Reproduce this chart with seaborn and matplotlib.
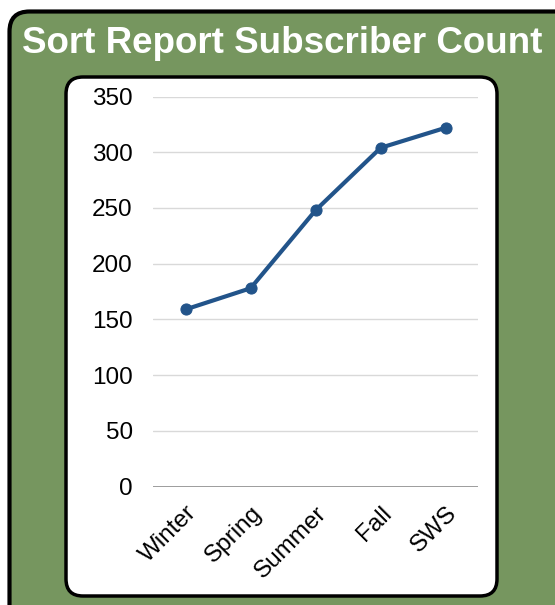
import numpy as np
import pandas as pd
import matplotlib
matplotlib.use("Agg")
import matplotlib.pyplot as plt
import seaborn as sns
from matplotlib.patches import FancyBboxPatch
from matplotlib.transforms import IdentityTransform

seasons = ["Winter", "Spring", "Summer", "Fall", "SWS"]
subscribers = [159, 178, 248, 304, 322]
y_ticks = [0, 50, 100, 150, 200, 250, 300, 350]

df = pd.DataFrame({"season": seasons, "count": subscribers})

sns.set_style("white")
plt.rcParams["font.family"] = ["Liberation Sans", "DejaVu Sans"]

W, H = 555, 605
fig = plt.figure(figsize=(W / 100, H / 100), dpi=100)

# green outer panel (pixel coords, y up)
outer = FancyBboxPatch((9.5, -40), 600, H - 11.5 + 40,
                       boxstyle="round,pad=0,rounding_size=20",
                       facecolor="#76965f", edgecolor="black", linewidth=3,
                       transform=IdentityTransform(), zorder=-5)
fig.patches.append(outer)

# white inner panel
inner = FancyBboxPatch((66, H - 596), 497 - 66, 596 - 77,
                       boxstyle="round,pad=0,rounding_size=17",
                       facecolor="white", edgecolor="black", linewidth=2.5,
                       transform=IdentityTransform(), zorder=-4)
fig.patches.append(inner)

fig.text(282.5 / W, 1 - 53 / H, "Sort Report Subscriber Count",
         ha="center", va="baseline", color="white", fontsize=26.5,
         fontweight="bold")

ax = fig.add_axes([153 / W, 118.3 / H, 325.3 / W, 390.2 / H])
ax.patch.set_alpha(0)

sns.lineplot(data=df, x="season", y="count", ax=ax, color="#22548a",
             linewidth=3, marker="o", markersize=8,
             markeredgecolor="#22548a", sort=False)

ax.set_xlim(-0.5, len(seasons) - 0.5)
ax.set_ylim(0, 350)
ax.set_yticks(y_ticks)
for t in y_ticks[1:]:
    ax.axhline(t, color="#d9d9d9", linewidth=1, zorder=0)
ax.axhline(0, color="#8c8c8c", linewidth=1.2, zorder=0)

for s in ax.spines.values():
    s.set_visible(False)

ax.set_xlabel("")
ax.set_ylabel("")
ax.tick_params(axis="y", length=0, pad=14.5, labelsize=17.5, labelcolor="black")
ax.tick_params(axis="x", length=0, pad=11, labelsize=17.5, labelcolor="black")
ax.set_xticks(range(len(seasons)))
ax.set_xticklabels(seasons, rotation=45, ha="right", va="top",
                   rotation_mode="anchor")

fig.savefig("out.png", dpi=100)
